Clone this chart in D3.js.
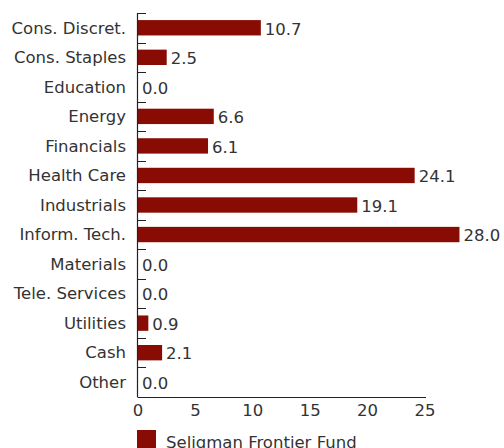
<!DOCTYPE html>
<html>
<head>
<meta charset="utf-8">
<script src="https://cdn.jsdelivr.net/npm/d3@7"></script>
<style>
  body { margin: 0; background: #fff; }
  svg text { font-family: "DejaVu Sans", sans-serif; fill: #333; font-size: 16.5px; }
</style>
</head>
<body>
<div id="chart"></div>
<script>
var categories = ["Cons. Discret.", "Cons. Staples", "Education", "Energy", "Financials",
    "Health Care", "Industrials", "Inform. Tech.", "Materials", "Tele. Services",
    "Utilities", "Cash", "Other"];
var values = [10.7, 2.5, 0.0, 6.6, 6.1, 24.1, 19.1, 28.0, 0.0, 0.0, 0.9, 2.1, 0.0];
var xTicks = [0, 5, 10, 15, 20, 25];
var seriesName = "Seligman Frontier Fund";

var width = 504, height = 448;
var plotLeft = 138, plotTop = 13, plotBottom = 397;
var barColor = "#880b04";

var svg = d3.select("#chart").append("svg")
    .attr("width", width)
    .attr("height", height);

var x = d3.scaleLinear().domain([0, 25]).range([plotLeft, 425]);
var y = d3.scaleBand().domain(categories).range([plotTop, plotBottom]).paddingInner(0.48).paddingOuter(0.24);
var step = y.step();

// bars
svg.append("g").selectAll("rect")
    .data(values)
    .enter()
    .append("rect")
    .attr("x", x(0))
    .attr("y", function(d, i) { return y(categories[i]); })
    .attr("width", function(d) { return x(d) - x(0); })
    .attr("height", y.bandwidth())
    .attr("fill", barColor);

// value labels
svg.append("g").selectAll("text")
    .data(values)
    .enter()
    .append("text")
    .attr("x", function(d) { return x(d) + 4; })
    .attr("y", function(d, i) { return y(categories[i]) + y.bandwidth() / 2 + 1; })
    .attr("dy", "0.35em")
    .text(function(d) { return d.toFixed(1); });

// category labels
svg.append("g").selectAll("text")
    .data(categories)
    .enter()
    .append("text")
    .attr("x", 126)
    .attr("y", function(d) { return y(d) + y.bandwidth() / 2; })
    .attr("dy", "0.35em")
    .attr("text-anchor", "end")
    .text(function(d) { return d; });

// y axis line + boundary ticks
svg.append("line")
    .attr("x1", plotLeft - 0.5).attr("x2", plotLeft - 0.5)
    .attr("y1", plotTop).attr("y2", plotBottom)
    .attr("stroke", "#222").attr("stroke-width", 1.2);

svg.append("g").selectAll("line")
    .data(categories)
    .enter()
    .append("line")
    .attr("x1", plotLeft - 0.5).attr("x2", plotLeft + 8)
    .attr("y1", function(d, i) { return Math.round(plotTop + i * step) + 0.5; })
    .attr("y2", function(d, i) { return Math.round(plotTop + i * step) + 0.5; })
    .attr("stroke", "#222");

// x axis
svg.append("line")
    .attr("x1", plotLeft - 0.5).attr("x2", 426)
    .attr("y1", plotBottom + 0.5).attr("y2", plotBottom + 0.5)
    .attr("stroke", "#222").attr("stroke-width", 1.2);

svg.append("g").selectAll("text")
    .data(xTicks)
    .enter()
    .append("text")
    .attr("x", function(d) { return x(d); })
    .attr("y", 416)
    .attr("text-anchor", "middle")
    .text(function(d) { return d; });

// legend
svg.append("rect")
    .attr("x", 137).attr("y", 430)
    .attr("width", 19).attr("height", 19)
    .attr("fill", barColor);

svg.append("text")
    .attr("x", 166).attr("y", 448)
    .text(seriesName);
</script>
</body>
</html>
